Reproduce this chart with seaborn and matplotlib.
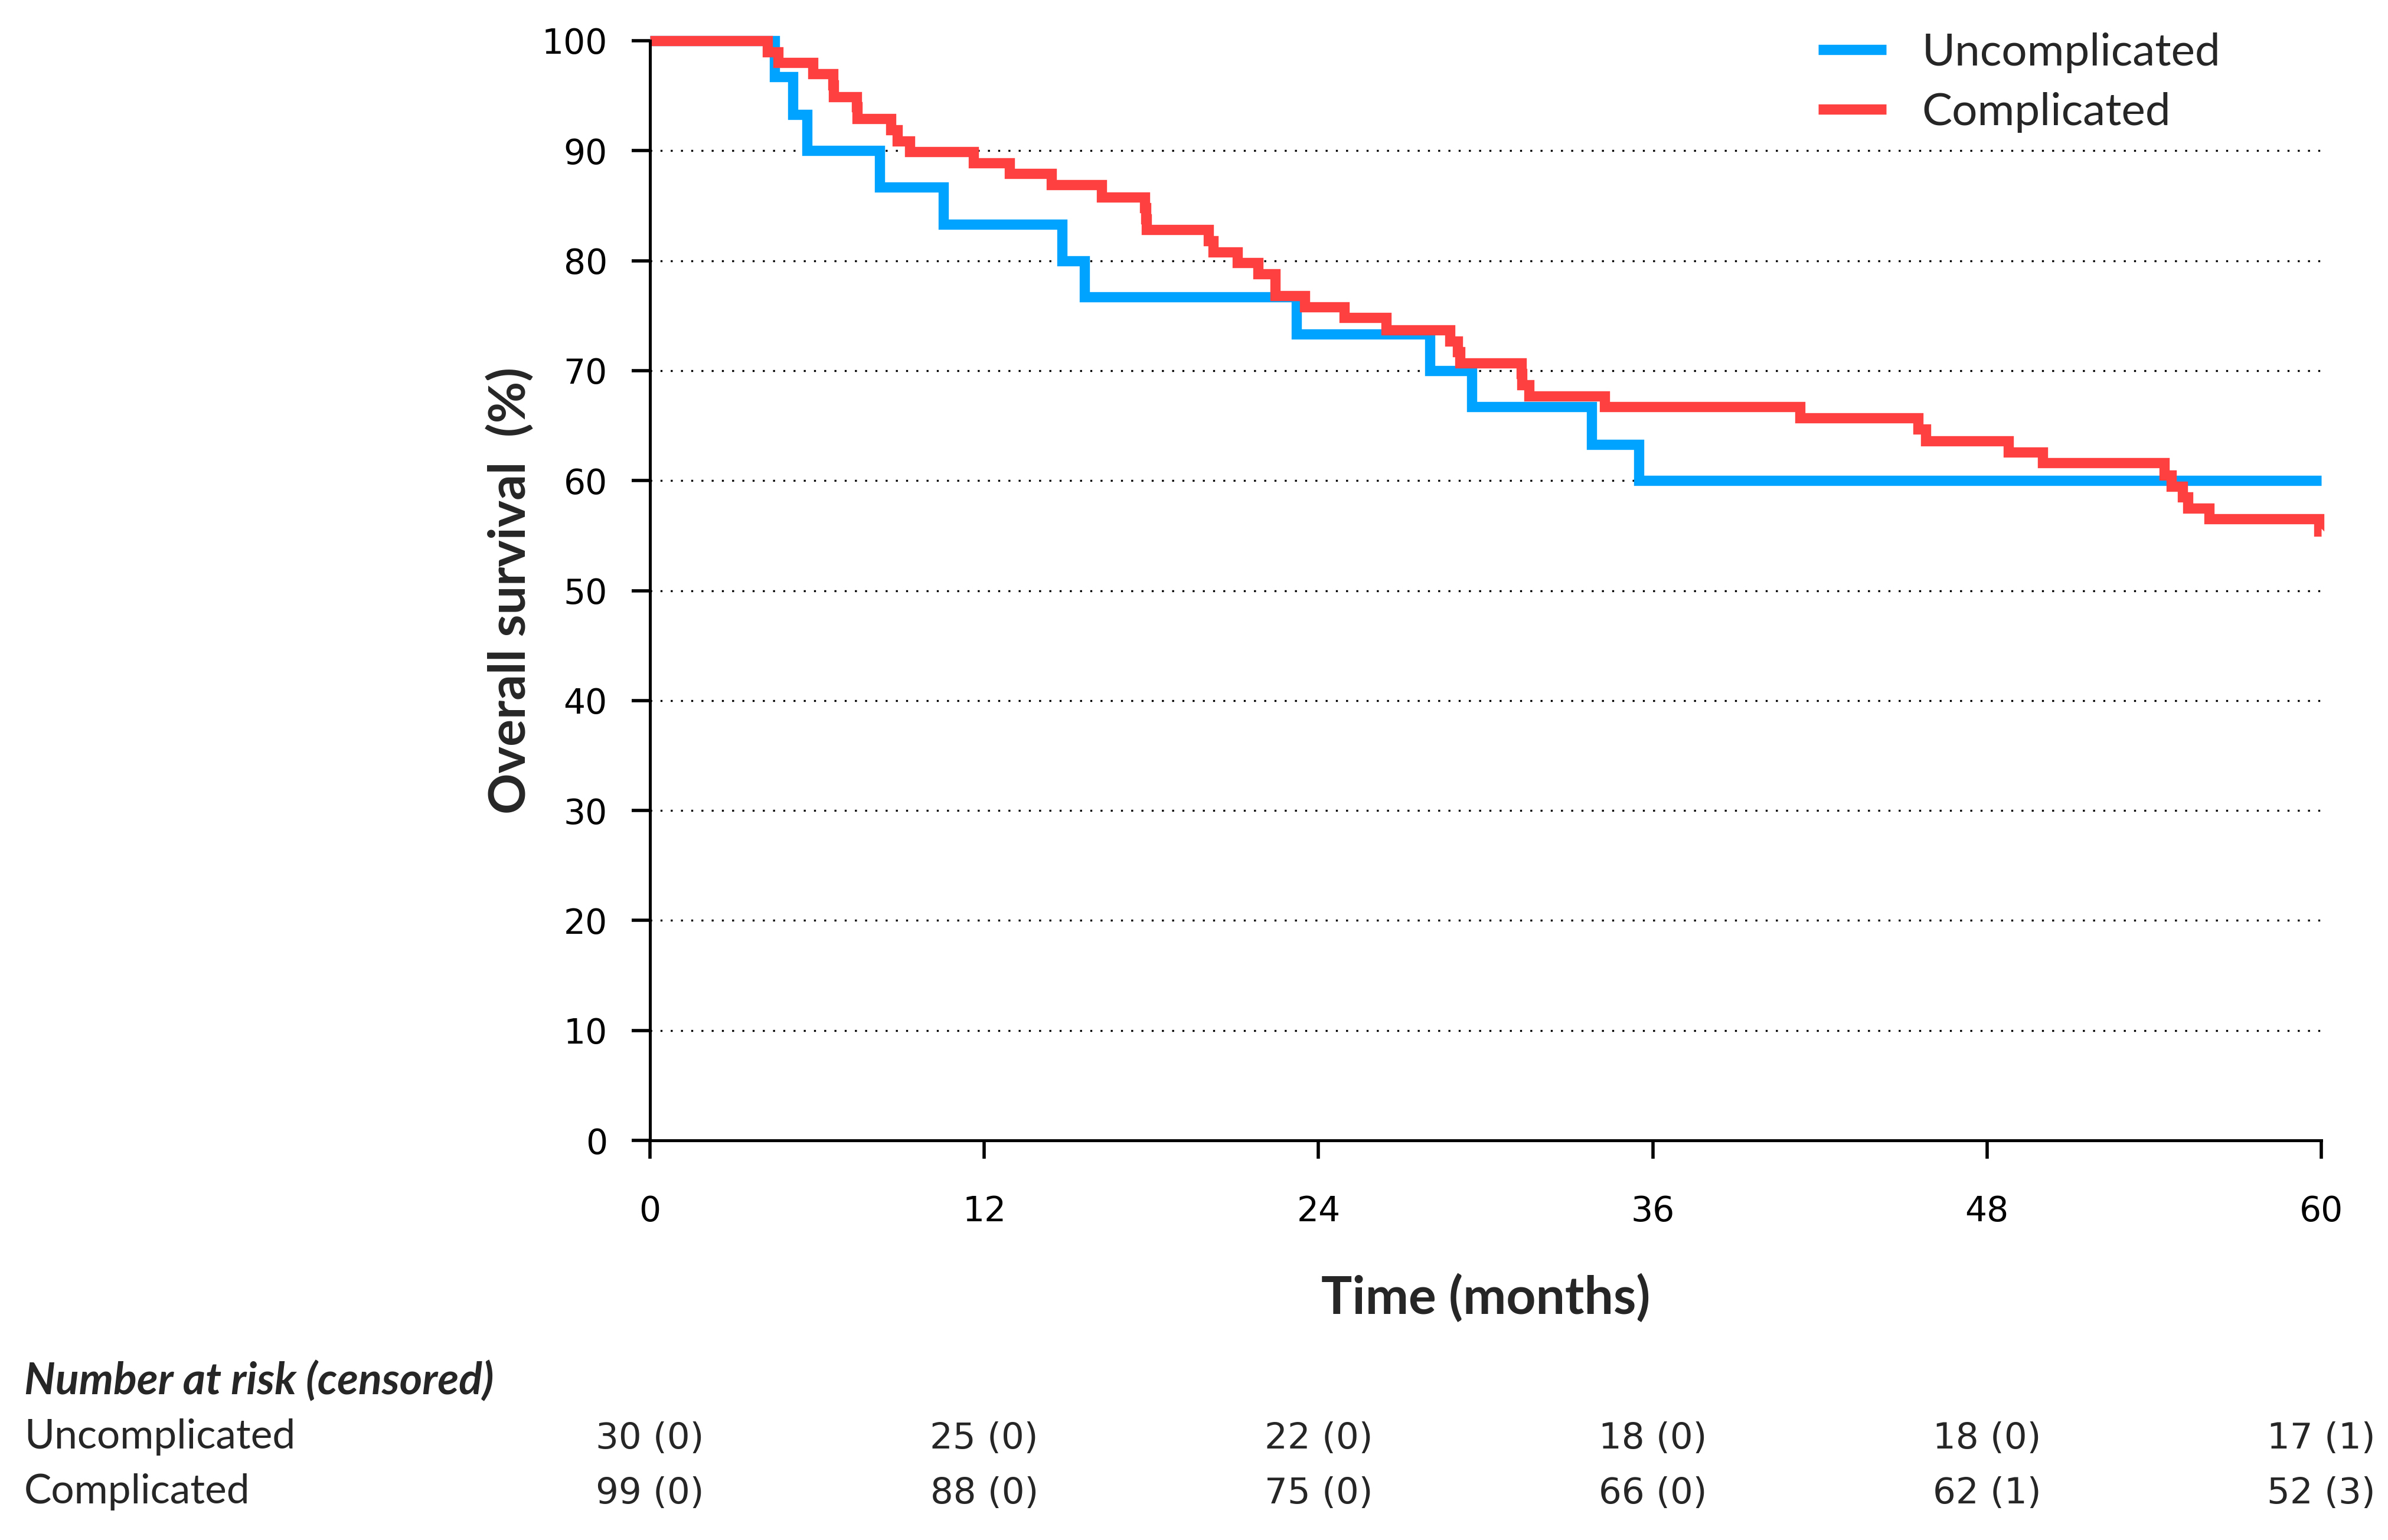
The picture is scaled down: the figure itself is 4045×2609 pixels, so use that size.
import pandas as pd
import matplotlib
matplotlib.use("Agg")
import matplotlib.pyplot as plt
import matplotlib.transforms as mtransforms
import seaborn as sns

# survival curves (time in months, survival in %)
groups = ["Uncomplicated", "Complicated"]
colors = ["#00A3FF", "#FF4040"]

uncomp_time = [0, 4.48, 5.13, 5.64, 8.24, 10.53, 14.8, 15.6, 23.2, 28.0, 29.5, 33.8, 35.5, 60]
uncomp_surv = [100, 96.7, 93.3, 90.0, 86.7, 83.3, 80.0, 76.7, 73.3, 70.0, 66.7, 63.3, 60.0, 60.0]

comp_time = [0, 4.21, 4.60, 5.86, 6.56, 6.60, 7.41, 7.43, 8.65, 8.88, 9.32, 11.61, 12.91, 14.42,
             16.22, 17.75, 17.80, 17.83, 20.05, 20.21, 21.09, 21.82, 22.44, 22.45, 23.50, 24.93,
             26.42, 28.72, 28.99, 29.07, 31.29, 31.30, 31.56, 34.28, 41.29, 45.52, 45.80, 48.76,
             49.99, 54.36, 54.61, 55.01, 55.21, 55.97, 59.91, 60.0]
comp_surv = [100, 99.0, 98.0, 97.0, 96.0, 94.9, 94.0, 92.9, 91.9, 90.9, 89.9, 88.9, 87.9, 86.9,
             85.8, 84.8, 83.8, 82.8, 81.8, 80.8, 79.8, 78.8, 77.8, 76.8, 75.8, 74.8,
             73.7, 72.7, 71.7, 70.7, 69.7, 68.7, 67.7, 66.7, 65.7, 64.7, 63.6, 62.6,
             61.6, 60.5, 59.5, 58.5, 57.5, 56.5, 55.4, 55.4]

# number at risk table
risk_times = [0, 12, 24, 36, 48, 60]
risk_uncomp = ["30 (0)", "25 (0)", "22 (0)", "18 (0)", "18 (0)", "17 (1)"]
risk_comp = ["99 (0)", "88 (0)", "75 (0)", "66 (0)", "62 (1)", "52 (3)"]

df = pd.concat([
    pd.DataFrame({"time": uncomp_time, "surv": uncomp_surv, "group": groups[0]}),
    pd.DataFrame({"time": comp_time, "surv": comp_surv, "group": groups[1]}),
], ignore_index=True)

sns.set_theme(style="ticks")
plt.rcParams["font.family"] = ["DejaVu Sans"]

W, H = 4045, 2609
fig = plt.figure(figsize=(W / 100, H / 100), dpi=100)
ax = fig.add_axes([1101 / W, 1 - 1932 / H, 2831 / W, 1863 / H])

sns.lineplot(data=df, x="time", y="surv", hue="group", hue_order=groups,
             palette=colors, estimator=None, sort=False, drawstyle="steps-post",
             linewidth=12.5, clip_on=False, legend=False, ax=ax,
             solid_joinstyle="miter", solid_capstyle="butt")

ax.set_xlim(0, 60)
ax.set_ylim(0, 100)
ax.set_xticks(risk_times)
ax.set_yticks(range(0, 101, 10))
sns.despine(ax=ax)
for sp in ["left", "bottom"]:
    ax.spines[sp].set_linewidth(3.6)
    ax.spines[sp].set_color("black")

ax.tick_params(axis="both", colors="black", labelsize=42, width=4, length=22)
ax.tick_params(axis="y", pad=30)
ax.tick_params(axis="x", pad=44)

ax.set_axisbelow(True)
ax.yaxis.grid(True, color="black", linestyle=(0, (1, 4.2)), linewidth=2.4)
for val, gl in zip(ax.get_yticks(), ax.get_ygridlines()):
    if val in (0, 100):
        gl.set_visible(False)

ax.set_xlabel("Time (months)", family="Lato", fontweight="bold", fontsize=63, va="baseline")
ax.xaxis.set_label_coords(0.5, -0.158)
ax.set_ylabel("Overall survival  (%)", family="Lato", fontweight="bold", fontsize=62, va="center")
ax.yaxis.set_label_coords(-0.0834, 0.5)

ax.legend(ax.get_lines(), groups, loc="upper left",
          bbox_to_anchor=(3080 / W, 1 - 55 / H), bbox_transform=fig.transFigure,
          frameon=False, borderpad=0, borderaxespad=0, handlelength=1.5,
          handletextpad=0.8, labelspacing=0.42, prop={"family": "Lato", "size": 55})

# number at risk table
fig.text(41 / W, 1 - 2362 / H, "Number at risk (censored)", family="Lato",
         fontweight="bold", style="italic", fontsize=53, va="baseline", ha="left")
fig.text(41 / W, 1 - 2454 / H, groups[0], family="Lato", fontsize=50, va="baseline", ha="left")
fig.text(41 / W, 1 - 2547 / H, groups[1], family="Lato", fontsize=50, va="baseline", ha="left")

trans = mtransforms.blended_transform_factory(ax.transData, fig.transFigure)
for t, a, b in zip(risk_times, risk_uncomp, risk_comp):
    ax.text(t, 1 - 2454 / H, a, transform=trans, ha="center", va="baseline", fontsize=44, clip_on=False)
    ax.text(t, 1 - 2547 / H, b, transform=trans, ha="center", va="baseline", fontsize=44, clip_on=False)

fig.savefig("out.png", dpi=100, facecolor="white")
